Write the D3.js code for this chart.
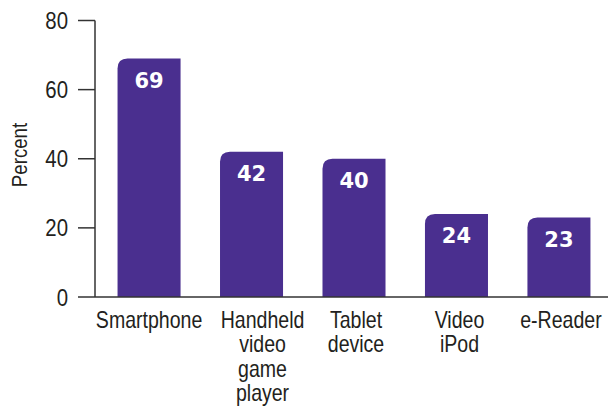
<!DOCTYPE html>
<html>
<head>
<meta charset="utf-8">
<script src="https://cdn.jsdelivr.net/npm/d3@7"></script>
<style>
  body { margin: 0; background: #fff; }
  svg { display: block; }
  .narrow { font-family: "Liberation Sans", Arial, sans-serif; }
</style>
</head>
<body>
<svg width="608" height="410"></svg>
<script>
const categories = [
  ['Smartphone'],
  ['Handheld', 'video', 'game', 'player'],
  ['Tablet', 'device'],
  ['Video', 'iPod'],
  ['e-Reader']
];
const values = [69, 42, 40, 24, 23];
const yTicks = [0, 20, 40, 60, 80];

const svg = d3.select('svg');
const width = +svg.attr('width');
const barColor = '#4a2f8f';
const axisColor = '#333';
const textColor = '#231f20';
// the original type is a condensed gothic; squeeze Liberation Sans to match
const squeeze = 0.85;
// labels in the original sit a little right of the bar centres
const labelNudge = [0, 11, 2, 3, 2];

const xScale = d3.scaleBand()
  .domain(d3.range(values.length))
  .range([95, 613])
  .paddingInner(0.385)
  .paddingOuter(0.22);
const yScale = d3.scaleLinear()
  .domain([0, 80])
  .range([297, 20.5]);

// bars: only the top-left corner is rounded
const r = 10;
function barPath(d, i) {
  const x0 = xScale(i);
  const x1 = x0 + xScale.bandwidth();
  const y0 = yScale(0);
  const y1 = yScale(d);
  return `M${x0},${y0}V${y1 + r}Q${x0},${y1} ${x0 + r},${y1}H${x1}V${y0}Z`;
}
svg.selectAll('path.bar')
  .data(values)
  .enter()
    .append('path')
    .attr('class', 'bar')
    .attr('d', barPath)
    .attr('fill', barColor);

svg.selectAll('text.value')
  .data(values)
  .enter()
    .append('text')
    .attr('class', 'value')
    .attr('x', (d, i) => xScale(i) + xScale.bandwidth() / 2)
    .attr('y', (d) => yScale(d) + 29)
    .attr('text-anchor', 'middle')
    .attr('fill', '#fff')
    .style('font-family', '"DejaVu Sans", sans-serif')
    .style('font-weight', 'bold')
    .style('font-size', '21px')
    .text((d) => d);

// y axis
const yAxis = svg.append('g');
yAxis.append('line')
  .attr('x1', 95).attr('x2', 95)
  .attr('y1', yScale(80)).attr('y2', yScale(0))
  .attr('stroke', axisColor).attr('stroke-width', 1.5);
yAxis.selectAll('line.tick')
  .data(yTicks)
  .enter()
    .append('line')
    .attr('class', 'tick')
    .attr('x1', 78).attr('x2', 95)
    .attr('y1', (d) => yScale(d)).attr('y2', (d) => yScale(d))
    .attr('stroke', axisColor).attr('stroke-width', 1.5);
yAxis.selectAll('text')
  .data(yTicks)
  .enter()
    .append('text')
    .attr('class', 'narrow')
    .attr('transform', (d) => `translate(68,${yScale(d) + 8.5}) scale(${squeeze},1)`)
    .attr('text-anchor', 'end')
    .attr('fill', textColor)
    .style('font-size', '24px')
    .text((d) => d);

svg.append('text')
  .attr('class', 'narrow')
  .attr('transform', `translate(27,155) rotate(-90) scale(${squeeze},1)`)
  .attr('text-anchor', 'middle')
  .attr('fill', textColor)
  .style('font-size', '22px')
  .text('Percent');

// x axis
svg.append('line')
  .attr('x1', 95).attr('x2', width)
  .attr('y1', yScale(0)).attr('y2', yScale(0))
  .attr('stroke', axisColor).attr('stroke-width', 1.5);

const labels = svg.selectAll('text.cat')
  .data(categories)
  .enter()
    .append('text')
    .attr('class', 'cat narrow')
    .attr('transform', (d, i) => `translate(${xScale(i) + xScale.bandwidth() / 2 + labelNudge[i]},0) scale(${squeeze},1)`)
    .attr('text-anchor', 'middle')
    .attr('fill', textColor)
    .style('font-size', '23px');
labels.selectAll('tspan')
  .data((d) => d)
  .enter()
    .append('tspan')
    .attr('x', 0)
    .attr('y', (d, j) => 328 + j * 24.5)
    .text((d) => d);
</script>
</body>
</html>
